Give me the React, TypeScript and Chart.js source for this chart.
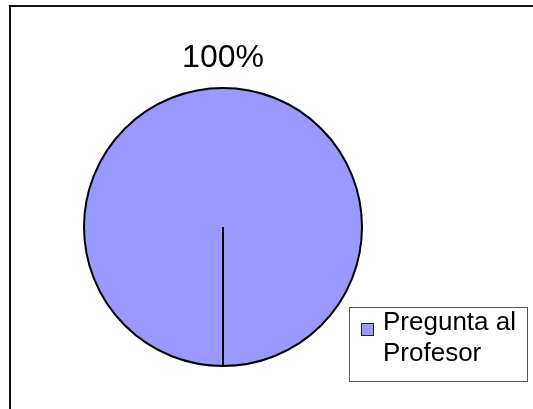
import React, { useEffect, useRef } from "react";
import { Chart, registerables } from "chart.js";

Chart.register(...registerables);

const categories: string[] = ["Pregunta al Profesor"];
const legendLines: string[] = ["Pregunta al", "Profesor"];
const values: number[] = [100];
const colors: string[] = ["#9999FF"];

const FONT = '"Liberation Sans", Arial, sans-serif';

const pieExtras = {
  id: "pieExtras",
  afterDatasetsDraw(chart: any) {
    const meta = chart.getDatasetMeta(0);
    const ds = chart.data.datasets[0];
    const total = (ds.data as number[]).reduce((a, b) => a + b, 0);
    const ctx = chart.ctx;
    ctx.save();
    meta.data.forEach((arc: any, i: number) => {
      const { x, y, outerRadius, startAngle } = arc.getProps(["x", "y", "outerRadius", "startAngle"], true);
      // radial edge of the slice
      ctx.beginPath();
      ctx.strokeStyle = "#000";
      ctx.lineWidth = 2;
      ctx.moveTo(x, y);
      ctx.lineTo(x + Math.cos(startAngle) * outerRadius, y + Math.sin(startAngle) * outerRadius);
      ctx.stroke();
      // percentage label
      const pct = Math.round(((ds.data[i] as number) / total) * 100) + "%";
      ctx.fillStyle = "#000";
      ctx.font = `32px ${FONT}`;
      ctx.textAlign = "center";
      ctx.textBaseline = "alphabetic";
      ctx.fillText(pct, x, y - outerRadius - 21);
    });
    ctx.restore();
  },
};

export default function App() {
  const ref = useRef<HTMLCanvasElement | null>(null);
  useEffect(() => {
    document.body.style.margin = "0";
    const chart = new Chart(ref.current as HTMLCanvasElement, {
      type: "pie",
      data: {
        labels: categories,
        datasets: [
          {
            data: values,
            backgroundColor: colors,
            borderColor: "#000",
            borderWidth: 2,
          },
        ],
      },
      options: {
        animation: false,
        responsive: false,
        rotation: 180,
        layout: { padding: { left: 83, right: 170, top: 86, bottom: 41 } },
        plugins: {
          legend: { display: false },
          tooltip: { enabled: false },
        },
      },
      plugins: [pieExtras],
    });
    return () => chart.destroy();
  }, []);

  return (
    <div style={{ position: "relative", width: 533, height: 409, overflow: "hidden", background: "#fff", fontFamily: FONT }}>
      <div
        style={{
          position: "absolute",
          left: 9,
          top: 5,
          width: 600,
          height: 500,
          borderLeft: "2px solid #111",
          borderTop: "2px solid #111",
        }}
      />
      <canvas ref={ref} width={533} height={409} style={{ position: "absolute", left: 0, top: 0, width: 533, height: 409 }} />
      <div
        style={{
          position: "absolute",
          left: 349,
          top: 307,
          width: 179,
          height: 75,
          boxSizing: "border-box",
          border: "1px solid #555",
          background: "#fff",
        }}
      >
        <div
          style={{
            position: "absolute",
            left: 11,
            top: 15,
            width: 13,
            height: 13,
            boxSizing: "border-box",
            border: "1px solid #222",
            background: colors[0],
          }}
        />
        <div
          title={categories[0]}
          style={{
            position: "absolute",
            left: 33,
            top: -2,
            fontSize: 26,
            lineHeight: "31px",
            color: "#000",
            whiteSpace: "nowrap",
          }}
        >
          {legendLines.map((l, i) => (
            <div key={i}>{l}</div>
          ))}
        </div>
      </div>
    </div>
  );
}
